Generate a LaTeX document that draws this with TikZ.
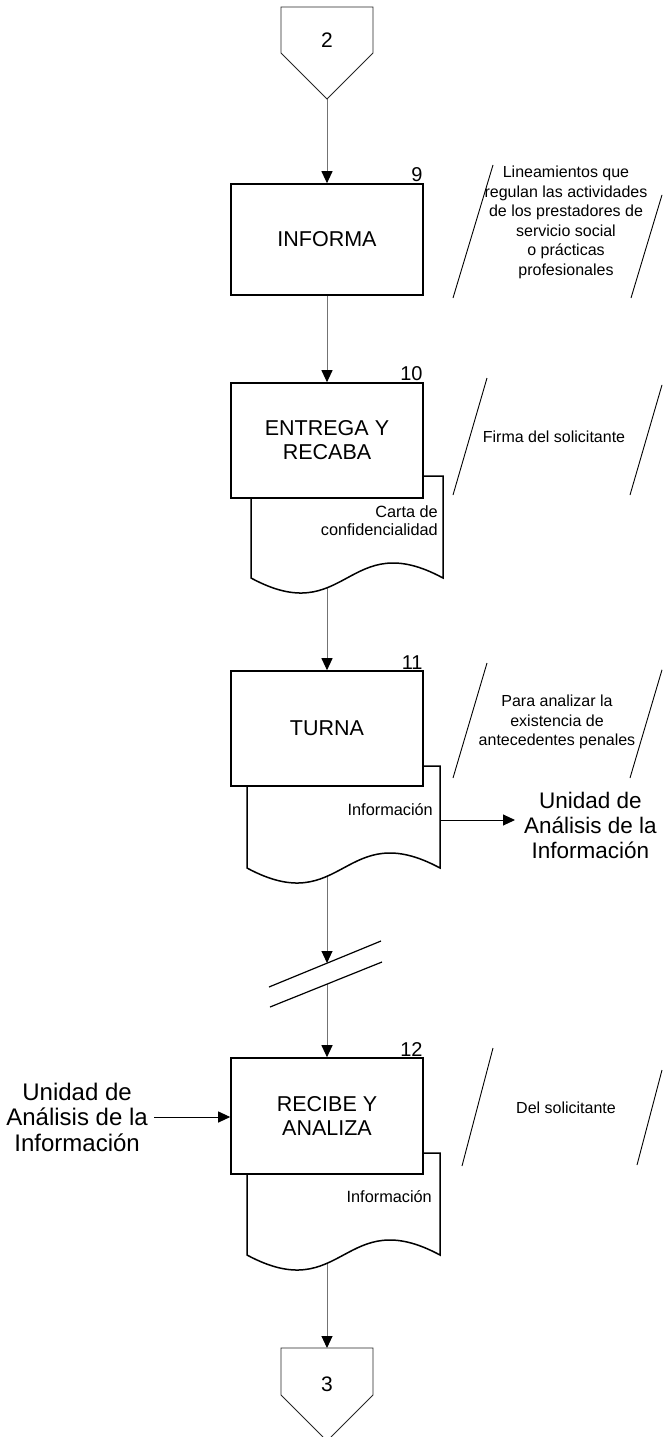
\documentclass[tikz,border=0pt]{standalone}
\usepackage{fontspec}
\setmainfont{Liberation Sans}
\usetikzlibrary{arrows.meta}
\pgfdeclarelayer{bg}
\pgfsetlayers{bg,main}
\begin{document}
\begin{tikzpicture}[x=1pt,y=-1pt,
  box/.style={draw=black, line width=1.6pt, fill=white, minimum width=192pt, inner sep=0pt, align=center, font=\fontsize{21.5}{24}\selectfont},
  num/.style={anchor=south east, inner sep=1pt, font=\fontsize{20}{20}\selectfont},
  note/.style={align=center, inner sep=0pt, font=\fontsize{16}{19.5}\selectfont},
  doctxt/.style={align=right, anchor=east, inner sep=0pt, font=\fontsize{16.3}{18}\selectfont},
  side/.style={align=center, font=\fontsize{22.5}{25}\selectfont},
  flow/.style={draw=black!55, line width=1pt},
  tip/.style={-{Triangle[length=12pt,width=11pt,color=black,fill=black]}},
  slash/.style={draw=black, line width=0.9pt},
  brk/.style={draw=black, line width=1.2pt},
  docshape/.style={draw=black, line width=1.5pt, fill=white},
  conn/.style={draw=black!85, line width=0.9pt},
  ctext/.style={inner sep=0pt, font=\fontsize{21}{21}\selectfont},
]
\useasboundingbox (0,0) rectangle (662,1437);

% ---------- top connector ----------
\draw[conn] (281,7) -- (373,7) -- (373,53) -- (327,99) -- (281,53) -- cycle;
\node[ctext] (c2) at (327,40) {2};
\coordinate (c2p) at (327,99);

% ---------- step 9 ----------
\node[box, minimum height=111pt] (b9) at (327,239.5) {INFORMA};
\node[num] (n9) at (b9.north east) {9};

% ---------- step 10 ----------
\draw[docshape] (251,476) -- (443,476) -- (443,578) .. controls (347,526) and (347,630) .. (251,578) -- cycle;
\node[box, minimum height=115pt] (b10) at (327,440.5) {ENTREGA Y\\RECABA};
\node[num] (n10) at (b10.north east) {10};
\node[doctxt] (t10) at (438,521) {Carta de\\confidencialidad};

% ---------- step 11 ----------
\draw[docshape] (247,766) -- (440,766) -- (440,868) .. controls (343.5,816) and (343.5,920) .. (247,868) -- cycle;
\node[box, minimum height=115pt] (b11) at (327,728.5) {TURNA};
\node[num] (n11) at (b11.north east) {11};
\node[doctxt] (t11) at (433,810) {Información};
\coordinate (d11r) at (440,820);
\node[side, anchor=west, inner xsep=9pt, inner ysep=0pt] (u1) at (515,825) {Unidad de\\Análisis de la\\Información};
\draw[black, line width=1pt, tip] (d11r) -- (u1.west |- d11r);

% ---------- break ----------
\draw[brk] (269,987) -- (381,941);
\draw[brk] (270,1007) -- (382,962);
\coordinate (brk1) at (327,963);
\coordinate (brk2) at (327,984);

% ---------- step 12 ----------
\draw[docshape] (247,1153) -- (440,1153) -- (440,1255) .. controls (343.5,1203) and (343.5,1307) .. (247,1255) -- cycle;
\node[box, minimum height=116pt] (b12) at (327,1116) {RECIBE Y\\ANALIZA};
\node[num] (n12) at (b12.north east) {12};
\node[doctxt] (t12) at (432,1197) {Información};
\node[side, anchor=east, inner xsep=6pt, inner ysep=0pt, font=\fontsize{24}{25.5}\selectfont] (u2) at (154,1117) {Unidad de\\Análisis de la\\Información};
\draw[black, line width=1pt, tip] (u2.east) -- (b12.west |- u2.east);

% ---------- bottom connector ----------
\draw[conn] (323,1437) -- (281,1395) -- (281,1348) -- (373,1348) -- (373,1395) -- (331,1437);
\node[ctext] (c3) at (327,1384) {3};
\coordinate (c3top) at (327,1348);

% ---------- annotations ----------
\draw[slash] (453,298) -- (493,165);
\draw[slash] (631,298) -- (662,194.9);
\node[note] (a9) at (566,222.5) {Lineamientos que\\regulan las actividades\\de los prestadores de\\servicio social\\o prácticas\\profesionales};

\draw[slash] (453,495) -- (487,378);
\draw[slash] (630,495) -- (662,384.9);
\node[note] (a10) at (554,437) {Firma del solicitante};

\draw[slash] (453,778) -- (487,663);
\draw[slash] (630,778) -- (662,669.8);
\node[note] (a11) at (557,722) {Para analizar la\\existencia de\\antecedentes penales};

\draw[slash] (462,1166) -- (493,1048);
\draw[slash] (637,1165) -- (662,1070);
\node[note] (a12) at (566,1108) {Del solicitante};

% ---------- flow lines (behind shapes) ----------
\begin{pgfonlayer}{bg}
\draw[flow, tip] (c2p) -- (b9.north);
\draw[flow, tip] (b9.south) -- (b10.north);
\draw[flow, tip] (b10.south) -- (b11.north);
\draw[flow, tip] (b11.south) -- (brk1);
\draw[flow, tip] (brk2) -- (b12.north);
\draw[flow, tip] (b12.south) -- (c3top);
\end{pgfonlayer}
\end{tikzpicture}
\end{document}
